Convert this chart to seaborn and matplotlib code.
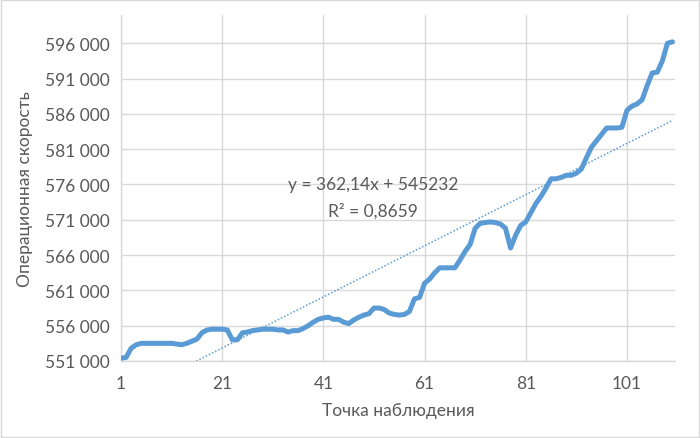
import matplotlib
matplotlib.use("Agg")
import matplotlib.pyplot as plt
import matplotlib.ticker as mticker
import numpy as np
import pandas as pd
import seaborn as sns

# Data (values in thousands)
speed_k = [
    551.4, 551.5, 552.8, 553.3, 553.5, 553.5, 553.5, 553.5, 553.5, 553.5,
    553.5, 553.4, 553.3, 553.5, 553.8, 554.1, 555.0, 555.4, 555.5, 555.5,
    555.5, 555.4, 554.0, 554.0, 555.0, 555.1, 555.3, 555.4, 555.5, 555.5,
    555.5, 555.4, 555.4, 555.1, 555.3, 555.3, 555.6, 556.0, 556.5, 556.9,
    557.1, 557.2, 556.9, 556.9, 556.5, 556.3, 556.8, 557.2, 557.5, 557.7,
    558.5, 558.5, 558.3, 557.8, 557.6, 557.5, 557.6, 558.0, 559.8, 560.0,
    562.0, 562.6, 563.5, 564.2, 564.2, 564.2, 564.2, 565.3, 566.5, 567.5,
    569.8, 570.5, 570.6, 570.7, 570.6, 570.4, 569.8, 567.0, 568.8, 570.2,
    570.7, 572.0, 573.3, 574.3, 575.5, 576.8, 576.8, 577.0, 577.3, 577.3,
    577.6, 578.2, 579.8, 581.3, 582.2, 583.1, 584.0, 584.0, 584.0, 584.1,
    586.5, 587.1, 587.4, 588.0, 590.0, 591.8, 591.9, 593.5, 596.0, 596.2,
]
observation = list(range(1, len(speed_k) + 1))
speed = [v * 1000 for v in speed_k]

trend_slope = 362.14
trend_intercept = 545232
equation_text = "y = 362,14x + 545232"
r2_text = "R² = 0,8659"

x_ticks = [1, 21, 41, 61, 81, 101]
y_ticks = list(range(551000, 596001, 5000))

df = pd.DataFrame({"obs": observation, "speed": speed})
df["trend"] = trend_slope * df["obs"] + trend_intercept

sns.set_theme(style="white")
plt.rcParams["font.family"] = ["Lato", "DejaVu Sans"]

fig = plt.figure(figsize=(7.0, 4.39), dpi=100)
ax = fig.add_axes([121 / 700, 1 - 362 / 439, (675 - 121) / 700, (362 - 16) / 439])

blue = "#5B9BD5"
sns.lineplot(data=df, x="obs", y="speed", ax=ax, color=blue, linewidth=3.6,
             solid_capstyle="round", solid_joinstyle="round", zorder=3)
sns.lineplot(data=df, x="obs", y="trend", ax=ax, color=blue, linewidth=1.1,
             linestyle=(0, (1, 1.3)), zorder=2)

ax.set_xlim(1, 110.5)
ax.set_ylim(551000, 600000)
ax.set_xticks(x_ticks)
ax.set_yticks(y_ticks)
ax.yaxis.set_major_formatter(mticker.FuncFormatter(lambda v, p: f"{int(v):,}".replace(",", " ")))

grid_c = "#D9D9D9"
ax.grid(True, color=grid_c, linewidth=1.0, zorder=0)
for s in ["top", "right"]:
    ax.spines[s].set_visible(False)
for s in ["left", "bottom"]:
    ax.spines[s].set_color(grid_c)
    ax.spines[s].set_linewidth(1.0)

txt_c = "#595959"
fs = 12.5
ax.tick_params(axis="both", colors=txt_c, labelsize=fs, length=0)
ax.tick_params(axis="x", pad=10)
ax.tick_params(axis="y", pad=8)
ax.set_xlabel("Точка наблюдения", color=txt_c, fontsize=fs, labelpad=8)
ax.set_ylabel("Операционная скорость", color=txt_c, fontsize=fs, labelpad=9)

fig.text(373 / 700, 1 - 185 / 439, equation_text, color=txt_c, fontsize=fs,
         ha="center", va="center")
fig.text(373 / 700, 1 - 211 / 439, r2_text, color=txt_c, fontsize=fs,
         ha="center", va="center")

border = plt.Rectangle((0.001, 0.002), 0.997, 0.996, transform=fig.transFigure,
                       fill=False, edgecolor="#D9D9D9", linewidth=1.0)
fig.patches.append(border)

fig.savefig("out.png", dpi=100)
